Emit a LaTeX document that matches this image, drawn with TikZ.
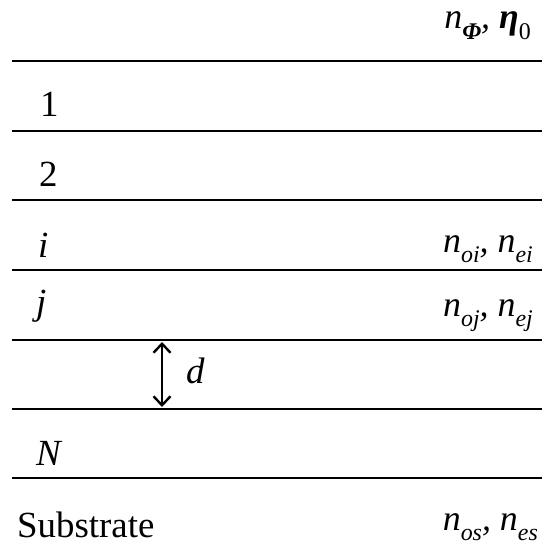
\documentclass[tikz,border=0pt]{standalone}
\usepackage{fontspec}
\usetikzlibrary{arrows.meta}
\setmainfont{Liberation Serif}
\newcommand{\lsub}[1]{\raisebox{-0.28em}{\fontsize{24}{24}\selectfont #1}}
\begin{document}
\begin{tikzpicture}[x=1bp,y=-1bp,
  layerline/.style={line width=2.6bp},
  lefttxt/.style={anchor=base west,inner sep=0pt,font=\fontsize{37}{37}\selectfont},
  righttxt/.style={anchor=base east,inner sep=0pt,font=\fontsize{36}{36}\selectfont\itshape},
  darrow/.style={line width=2.4bp,<->,>={Straight Barb[length=9bp,width=17bp,line width=2.4bp]}}]
\useasboundingbox (0,0) rectangle (544,554);
% layer boundaries
\foreach \y/\n in {61/l0,131/l1,200/l2,270/l3,340/l4,409/l5,478/l6}{
  \coordinate (\n w) at (12,\y);
  \coordinate (\n e) at (542,\y);
  \draw[layerline] (\n w) -- (\n e);
}
% left labels
\node[lefttxt] (t1) at (40,117) {1};
\node[lefttxt] (t2) at (39,187) {2};
\node[lefttxt] (ti) at (38,257) {\itshape i};
\node[lefttxt] (tj) at (36,314) {\itshape j};
\node[lefttxt] (tN) at (36,465) {\itshape N};
\node[lefttxt] (ts) at (17,537) {Substrate};
% right labels
\node[righttxt] (r0) at (531,29) {n\lsub{\textbf{\textit{Φ}}}, \textbf{η}\lsub{\upshape 0}};
\node[righttxt] (ri) at (533,252) {n\lsub{oi}, n\lsub{ei}};
\node[righttxt] (rj) at (533,316) {n\lsub{oj}, n\lsub{ej}};
\node[righttxt] (rs) at (538,530) {n\lsub{os}, n\lsub{es}};
% thickness arrow
\coordinate (dtop) at (162,342);
\coordinate (dbot) at (162,407);
\draw[darrow] (dtop) -- (dbot);
\node[lefttxt,font=\fontsize{37}{37}\selectfont\itshape] (dl) at (186,383) {d};
\end{tikzpicture}
\end{document}
